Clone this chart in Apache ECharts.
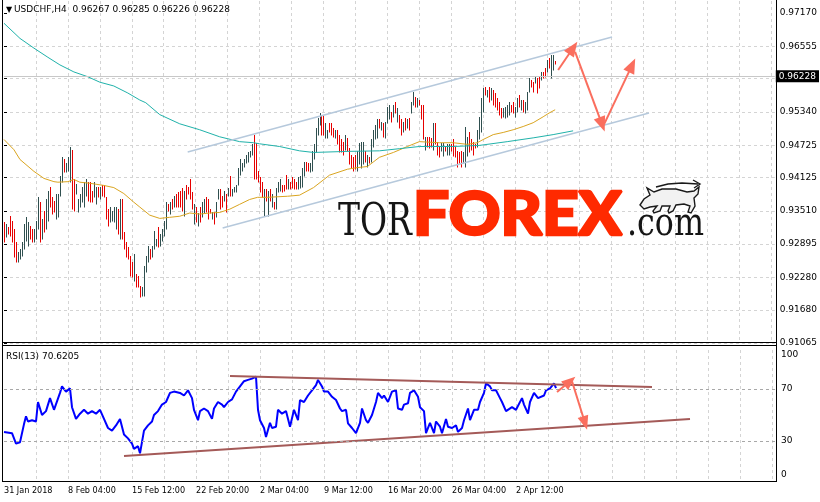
<!DOCTYPE html>
<html><head><meta charset="utf-8">
<script src="https://cdn.jsdelivr.net/npm/echarts@6/dist/echarts.min.js"></script>
<style>html,body{margin:0;padding:0;background:#fff}#c{width:820px;height:502px}</style>
</head><body><div id="c"></div>
<script>
// ---------- DATA ----------
const symbolTitle = 'USDCHF,H4';
const lastOHLC = ['0.96267', '0.96285', '0.96226', '0.96228'];
const lastPrice = 0.96228;
const rsiTitle = 'RSI(13) 70.6205';

const barHigh = [
0.9330,0.9326,0.9321,0.9341,0.9332,0.9317,0.9293,0.9275,0.9280,0.9293,
0.9326,0.9339,0.9330,0.9323,0.9317,0.9317,0.9332,0.9376,0.9367,0.9336,
0.9350,0.9372,0.9387,0.9396,0.9376,0.9369,0.9382,0.9382,0.9415,0.9451,
0.9446,0.9440,0.9451,0.9470,0.9464,0.9409,0.9400,0.9372,0.9382,0.9396,
0.9404,0.9409,0.9405,0.9404,0.9387,0.9404,0.9396,0.9396,0.9396,0.9399,
0.9399,0.9376,0.9354,0.9358,0.9350,0.9358,0.9358,0.9354,0.9372,0.9372,
0.9312,0.9293,0.9284,0.9267,0.9256,0.9271,0.9235,0.9231,0.9212,0.9210,
0.9249,0.9267,0.9286,0.9280,0.9286,0.9313,0.9299,0.9321,0.9308,0.9317,
0.9332,0.9367,0.9363,0.9367,0.9372,0.9378,0.9382,0.9385,0.9387,0.9394,
0.9387,0.9399,0.9396,0.9409,0.9385,0.9363,0.9358,0.9347,0.9358,0.9367,
0.9372,0.9376,0.9372,0.9354,0.9348,0.9348,0.9367,0.9391,0.9391,0.9378,
0.9387,0.9382,0.9393,0.9416,0.9391,0.9396,0.9399,0.9431,0.9446,0.9440,
0.9446,0.9455,0.9459,0.9461,0.9474,0.9492,0.9477,0.9424,0.9413,0.9405,
0.9391,0.9391,0.9387,0.9391,0.9382,0.9367,0.9394,0.9405,0.9409,0.9399,
0.9399,0.9418,0.9409,0.9405,0.9413,0.9409,0.9404,0.9413,0.9415,0.9431,
0.9442,0.9442,0.9440,0.9440,0.9461,0.9474,0.9505,0.9523,0.9532,0.9529,
0.9529,0.9514,0.9501,0.9514,0.9514,0.9505,0.9501,0.9501,0.9492,0.9483,
0.9479,0.9492,0.9486,0.9468,0.9455,0.9450,0.9455,0.9461,0.9477,0.9479,
0.9479,0.9461,0.9455,0.9450,0.9483,0.9501,0.9510,0.9520,0.9520,0.9516,
0.9514,0.9516,0.9543,0.9547,0.9534,0.9547,0.9553,0.9542,0.9529,0.9520,
0.9516,0.9523,0.9520,0.9523,0.9553,0.9571,0.9562,0.9560,0.9556,0.9547,
0.9547,0.9488,0.9488,0.9488,0.9486,0.9514,0.9514,0.9479,0.9470,0.9477,
0.9477,0.9470,0.9474,0.9474,0.9474,0.9483,0.9470,0.9461,0.9459,0.9461,
0.9459,0.9507,0.9488,0.9496,0.9483,0.9479,0.9474,0.9501,0.9525,0.9560,
0.9578,0.9580,0.9575,0.9580,0.9578,0.9575,0.9569,0.9560,0.9553,0.9542,
0.9542,0.9543,0.9547,0.9553,0.9547,0.9553,0.9543,0.9560,0.9565,0.9556,
0.9556,0.9553,0.9571,0.9597,0.9593,0.9589,0.9599,0.9597,0.9599,0.9608,
0.9608,0.9615,0.9630,0.9634,0.9639,0.9639,0.96285];

const barLow = [
0.9293,0.9302,0.9308,0.9304,0.9293,0.9266,0.9256,0.9256,0.9262,0.9267,
0.9280,0.9295,0.9286,0.9299,0.9293,0.9293,0.9299,0.9317,0.9293,0.9299,
0.9312,0.9317,0.9332,0.9359,0.9345,0.9348,0.9336,0.9339,0.9378,0.9405,
0.9422,0.9422,0.9424,0.9404,0.9354,0.9350,0.9382,0.9348,0.9359,0.9367,
0.9358,0.9378,0.9369,0.9367,0.9367,0.9376,0.9363,0.9376,0.9372,0.9378,
0.9376,0.9336,0.9323,0.9330,0.9332,0.9330,0.9317,0.9308,0.9299,0.9299,
0.9280,0.9266,0.9262,0.9231,0.9229,0.9221,0.9210,0.9210,0.9192,0.9194,
0.9194,0.9238,0.9256,0.9262,0.9266,0.9280,0.9286,0.9284,0.9286,0.9295,
0.9304,0.9317,0.9350,0.9345,0.9354,0.9358,0.9359,0.9359,0.9358,0.9350,
0.9341,0.9372,0.9382,0.9372,0.9354,0.9326,0.9330,0.9323,0.9330,0.9339,
0.9347,0.9348,0.9336,0.9347,0.9336,0.9326,0.9339,0.9372,0.9354,0.9358,
0.9369,0.9348,0.9378,0.9378,0.9378,0.9385,0.9385,0.9399,0.9418,0.9424,
0.9433,0.9440,0.9442,0.9450,0.9455,0.9409,0.9409,0.9405,0.9385,0.9376,
0.9341,0.9369,0.9341,0.9369,0.9358,0.9354,0.9354,0.9385,0.9387,0.9385,
0.9387,0.9391,0.9391,0.9391,0.9394,0.9391,0.9391,0.9391,0.9393,0.9396,
0.9415,0.9424,0.9424,0.9422,0.9424,0.9446,0.9459,0.9492,0.9510,0.9492,
0.9492,0.9486,0.9486,0.9496,0.9492,0.9488,0.9486,0.9474,0.9459,0.9459,
0.9455,0.9464,0.9461,0.9437,0.9431,0.9424,0.9428,0.9424,0.9437,0.9431,
0.9437,0.9442,0.9433,0.9440,0.9442,0.9470,0.9483,0.9486,0.9505,0.9501,
0.9488,0.9486,0.9514,0.9520,0.9516,0.9525,0.9532,0.9516,0.9505,0.9492,
0.9496,0.9501,0.9505,0.9501,0.9532,0.9547,0.9543,0.9543,0.9547,0.9520,
0.9483,0.9464,0.9470,0.9468,0.9470,0.9464,0.9474,0.9455,0.9450,0.9461,
0.9452,0.9461,0.9455,0.9455,0.9461,0.9452,0.9450,0.9433,0.9440,0.9433,
0.9440,0.9433,0.9452,0.9459,0.9464,0.9455,0.9468,0.9470,0.9483,0.9497,
0.9534,0.9565,0.9562,0.9553,0.9556,0.9547,0.9543,0.9538,0.9529,0.9523,
0.9525,0.9523,0.9525,0.9529,0.9534,0.9532,0.9525,0.9534,0.9543,0.9538,
0.9534,0.9532,0.9538,0.9571,0.9580,0.9571,0.9588,0.9569,0.9578,0.9593,
0.9597,0.9599,0.9608,0.9615,0.9597,0.9612,0.96226];

// 1 = bullish bar (dark), 0 = bearish bar (red)
const barUp = [
0,1,0,0,0,0,0,1,1,1, 1,1,1,0,0,1,1,1,0,1, 0,1,1,0,0,0,1,1,1,1, 0,1,1,1,0,0,1,1,1,1,
1,1,0,0,0,1,1,0,1,0, 0,0,0,1,1,1,1,0,1,0, 0,0,0,0,0,1,0,0,0,1, 1,1,1,0,1,1,1,0,1,1,
1,1,0,1,0,1,0,0,0,0, 1,0,0,0,0,1,0,1,0,1, 1,0,0,0,1,0,1,1,0,0, 1,0,1,0,1,1,1,1,1,1,
1,1,1,1,1,0,0,0,0,0, 1,0,1,0,1,0,1,1,1,0, 0,0,1,0,0,0,0,1,1,1, 1,0,0,1,1,1,1,1,1,0,
0,1,1,0,0,0,1,0,0,0, 0,1,0,0,0,0,0,1,1,1, 1,0,1,0,1,1,1,1,0,1, 0,1,1,1,0,1,0,1,0,0,
1,0,1,0,1,1,0,1,0,0, 0,1,0,0,0,1,0,0,0,1, 1,0,1,1,0,0,0,0,0,0, 1,1,1,0,0,0,0,1,1,1,
1,0,1,0,1,0,0,0,0,0, 1,1,1,1,0,0,1,1,0,1, 0,1,1,1,0,0,1,0,0,1, 0,0,1,0,1,1,0];

// moving averages: [bar index, value]
const maFast = [[0,0.9483],[5,0.9464],[8,0.9446],[15,0.9424],[20,0.9411],[25,0.9405],[27,0.9404],[32,0.9405],[35,0.9409],[38,0.9404],[43,0.9402],[50,0.9398],[55,0.9394],[60,0.9383],[65,0.9367],[68,0.9358],[73,0.9343],[78,0.9337],[83,0.9339],[88,0.9341],[93,0.9347],[98,0.9345],[103,0.9347],[108,0.9348],[113,0.9354],[118,0.9363],[123,0.9372],[127,0.9376],[132,0.9376],[142,0.9378],[148,0.9380],[155,0.9394],[163,0.9417],[172,0.9428],[177,0.9431],[182,0.9433],[188,0.9450],[195,0.9459],[202,0.9470],[208,0.9479],[218,0.9477],[225,0.9477],[232,0.9474],[237,0.9477],[240,0.9483],[245,0.9492],[250,0.9496],[255,0.9501],[260,0.9507],[265,0.9514],[270,0.9525],[273,0.9532],[276,0.9538]];
const maSlow = [[0,0.9698],[8,0.9670],[15,0.9652],[22,0.9635],[28,0.9621],[35,0.9608],[42,0.9599],[48,0.9589],[55,0.9582],[62,0.9569],[68,0.9556],[71,0.9551],[78,0.9529],[88,0.9512],[98,0.9501],[108,0.9488],[118,0.9479],[125,0.9477],[128,0.9475],[138,0.9470],[148,0.9462],[155,0.9459],[172,0.9461],[188,0.9462],[198,0.9466],[208,0.9470],[225,0.9470],[238,0.9472],[252,0.9479],[265,0.9486],[275,0.9492],[285,0.9499]];

// RSI(13): [bar index, value]
const rsiPoints = [[0,37],[4,36],[6,28],[8,29],[10,43],[11,49],[12,45],[14,46],[16,45],[17,60],[19,50],[21,53],[23,63],[25,54],[26,55],[28,67],[29,72],[31,68],[33,70.5],[34,56],[36,47],[38,51],[40,54],[42,51],[44,53],[46,51],[48,54],[50,47],[52,40],[54,38],[56,42],[58,47],[60,35],[62,32],[64,28],[65,24],[67,26],[68,20.5],[70,38],[72,42],[74,45],[75,50],[77,53],[79,58],[81,60],[83,67],[85,68],[88,67],[90,65],[92,69],[94,63],[95,54],[97,46],[98,53],[100,55],[102,53],[104,47],[105,55],[107,60],[109,58],[110,56],[112,60],[114,62],[116,68],[118,72],[120,76],[122,77],[124,78],[126,79.5],[127,54],[128,46],[130,40],[131,33],[133,44],[134,40],[136,41],[137,54],[139,51],[141,53],[143,41],[145,54],[147,46],[148,61.5],[150,60],[152,65],[154,69],[156,73],[157,77],[159,72],[160,68],[162,68],[164,64],[166,61.5],[168,55],[169,53],[171,54],[172,43.6],[174,40],[176,36],[178,44],[179,55],[181,46],[182,44],[184,50],[186,60],[187,67],[189,63],[190,65],[192,60],[194,68],[196,69],[197,55],[199,54],[200,58],[202,59],[203,67],[205,69],[207,64],[208,56],[210,53],[211,36],[213,44],[215,36],[216,45],[218,41],[219,36],[221,47],[222,41],[224,40],[226,42],[227,37],[229,40],[230,46],[232,55],[233,46],[235,54],[237,54],[238,60],[240,67],[241,74.4],[243,72],[244,69],[246,69],[248,63],[249,60],[251,53],[252,53],[254,56],[256,54],[257,55],[259,63],[260,58],[262,51],[263,60],[265,67],[267,63],[268,64],[270,65],[271,69],[273,70.5],[274,72],[275,74.4],[276,70.6205]];

const priceTicks = ['0.91065','0.91680','0.92280','0.92895','0.93510','0.94125','0.94725','0.95340','0.95955','0.96555','0.97170'];
const rsiTicks = [0, 30, 70, 100];
const timeLabels = ['31 Jan 2018','8 Feb 04:00','15 Feb 12:00','22 Feb 20:00','2 Mar 04:00','9 Mar 12:00','16 Mar 20:00','26 Mar 04:00','2 Apr 12:00'];

// drawn objects (bar index, value)
const channelUpper = [[92,0.94599],[304.5,0.96726]];
const channelLower = [[109.5,0.93193],[323,0.95320]];
const priceArrows = [[[277.5,0.96116],[285,0.96523]],[[286,0.96449],[299.5,0.95109]],[[300.5,0.95109],[314.5,0.96201]]];
const rsiUpper = [[113,80],[324,71.5]];
const rsiLower = [[60,18.5],[343,47]];
const rsiArrows = [[[276.5,67.7],[283,76]],[[284,76],[290.5,43.8]]];

// ---------- CHART ----------
const chart = echarts.init(document.getElementById('c'), null, {renderer:'canvas'});
const priceTickValues = priceTicks.map(Number);
const gridDash = {color:'#d4d4d4', type:[3,3], width:1};
const labelFont = 'DejaVu Sans';

const xCommon = {type:'value', min:0, max:386, interval:16,
  axisLine:{show:false}, axisTick:{show:false},
  splitLine:{show:true, showMinLine:false, showMaxLine:false, lineStyle:gridDash}};

const mctx = document.createElement('canvas').getContext('2d');
function fit(text, font, w){ mctx.font = font; return w / mctx.measureText(text).width; }

const torFont = '40px "DejaVu Serif"';
const forexFont = '900 60px Lato, Roboto, sans-serif';
const comFont = '34px "DejaVu Serif"';

// bull logo outline (local pixel shape of the watermark)
const bullBody = [[2,21],[6,15],[12,11],[9,4],[16,8],[24,5],[38,5],[49,8],[56,7],[61,3],[60,10],[56,14],[57,22],[53,29],[50,28],[52,22],[46,20],[38,21],[35,27],[31,29],[30,27],[32,22],[24,22],[22,27],[16,29],[15,27],[19,22],[12,23],[6,25]];
const bullArrow = [[18,3],[30,0],[44,-1],[60,0]];
const bullHead = [[55,-4],[62,0],[56,4]];

const option = {
  animation:false,
  backgroundColor:'#ffffff',
  grid:[
    {left:4, top:1, width:772, height:342},
    {left:4, top:350, width:772, height:130}
  ],
  xAxis:[
    Object.assign({gridIndex:0, axisLabel:{show:false}}, xCommon),
    Object.assign({gridIndex:1, axisLabel:{show:true, align:'left', margin:6, fontSize:9,
      fontFamily:'"DejaVu Sans Condensed", "Liberation Sans Narrow", "DejaVu Sans"', color:'#000',
      showMaxLabel:false,
      formatter:v => (v % 32 === 0 && timeLabels[v/32]) ? timeLabels[v/32] : ''}}, xCommon)
  ],
  yAxis:[
    {type:'value', gridIndex:0, position:'right', min:0.91065, max:0.97392,
     axisLine:{show:false},
     axisTick:{show:true, length:3, customValues:priceTickValues, lineStyle:{color:'#000'}},
     axisLabel:{show:true, customValues:priceTickValues, margin:5, fontSize:9, fontFamily:labelFont, color:'#000',
       formatter:v => { const i = priceTickValues.indexOf(v); return i >= 0 ? priceTicks[i] : v.toFixed(5); }},
     splitLine:{show:true, showMaxLine:false, lineStyle:gridDash}},
    {type:'value', gridIndex:1, position:'right', min:0, max:100, interval:10,
     axisLine:{show:false}, axisTick:{show:false}, splitLine:{show:false},
     axisLabel:{show:true, customValues:rsiTicks, margin:5, fontSize:9, fontFamily:labelFont, color:'#000',
       formatter:v => v === 100 ? '{t|100}' : (v === 0 ? '{b|0}' : (rsiTicks.indexOf(v) >= 0 ? String(v) : '')),
       rich:{t:{padding:[10,0,0,0], fontSize:9, fontFamily:labelFont, color:'#000'},
             b:{padding:[0,0,10,0], fontSize:9, fontFamily:labelFont, color:'#000'}}}}
  ],
  graphic:[
    // watermark
    {type:'text', z:1, x:338, y:224, scaleX:fit('TOR', torFont, 74), scaleY:1.1,
     style:{text:'TOR', font:torFont, fill:'#151515', verticalAlign:'middle', align:'left'}},
    {type:'text', z:1, x:413, y:216, scaleX:fit('FOREX', forexFont, 209), scaleY:1.0,
     style:{text:'FOREX', font:forexFont, fill:'#ff2a00', stroke:'#ff2a00', lineWidth:2.5, verticalAlign:'middle', align:'left'}},
    {type:'text', z:1, x:627, y:225.5, scaleX:fit('.com', comFont, 77), scaleY:1.13,
     style:{text:'.com', font:comFont, fill:'#151515', verticalAlign:'middle', align:'left'}},
    {type:'polygon', z:1, x:638, y:184, shape:{points:bullBody},
     style:{fill:'#f2f2f2', stroke:'#1a1a1a', lineWidth:1.4}},
    {type:'polyline', z:1, x:638, y:184, shape:{points:bullArrow},
     style:{fill:null, stroke:'#1a1a1a', lineWidth:1.4}},
    {type:'polyline', z:1, x:638, y:184, shape:{points:bullHead},
     style:{fill:null, stroke:'#1a1a1a', lineWidth:1.4}},
    // headers
    {type:'text', z:10, x:6, y:10, style:{text:'\u25BC', font:'8px "DejaVu Sans"', fill:'#000', verticalAlign:'middle'}},
    {type:'text', z:10, x:14, y:10, style:{text:symbolTitle + '  ' + lastOHLC.join(' '), font:'9px "DejaVu Sans"', fill:'#000', verticalAlign:'middle'}},
    {type:'text', z:10, x:6, y:357, style:{text:rsiTitle, font:'9px "DejaVu Sans"', fill:'#000', verticalAlign:'middle'}},
    // frames
    {type:'line', z:20, shape:{x1:2.5, y1:0, x2:2.5, y2:482}, style:{stroke:'#000', lineWidth:1}},
    {type:'line', z:20, shape:{x1:776.5, y1:0, x2:776.5, y2:482}, style:{stroke:'#000', lineWidth:1}},
    {type:'line', z:20, shape:{x1:2, y1:342.5, x2:777, y2:342.5}, style:{stroke:'#000', lineWidth:1}},
    {type:'line', z:20, shape:{x1:2, y1:345.5, x2:777, y2:345.5}, style:{stroke:'#000', lineWidth:1}},
    {type:'line', z:20, shape:{x1:2, y1:481.5, x2:777, y2:481.5}, style:{stroke:'#000', lineWidth:1}}
  ],
  series:[
    {type:'custom', name:'bars', xAxisIndex:0, yAxisIndex:0, clip:true,
     data: barHigh.map((h,i) => [i, barLow[i], h, barUp[i]]),
     renderItem:(params, api) => {
       const x = api.value(0);
       const p1 = api.coord([x, api.value(1)]);
       const p2 = api.coord([x, api.value(2)]);
       const px = Math.round(p1[0]) + 0.5;
       return {type:'line', shape:{x1:px, y1:Math.round(p1[1]) + 0.5, x2:px, y2:Math.round(p2[1])},
         style:{stroke: api.value(3) ? '#2f4f4f' : '#e60000', lineWidth:1}};
     }},
    {type:'line', name:'MA fast', xAxisIndex:0, yAxisIndex:0, data:maFast, showSymbol:false, smooth:false,
     lineStyle:{color:'#daa520', width:1}, z:3,
     markLine:{silent:true, symbol:'none', animation:false,
       lineStyle:{color:'#c8c8c8', type:'solid', width:1},
       label:{show:true, position:'end', distance:1, formatter:lastOHLC[3], color:'#fff', backgroundColor:'#000',
         padding:[2,3,1,3], fontSize:9, fontFamily:labelFont},
       data:[{yAxis:lastPrice}]}},
    {type:'line', name:'MA slow', xAxisIndex:0, yAxisIndex:0, data:maSlow, showSymbol:false,
     lineStyle:{color:'#20b2aa', width:1}, z:3},
    {type:'line', name:'channel up', xAxisIndex:0, yAxisIndex:0, data:channelUpper, showSymbol:false,
     lineStyle:{color:'#b6c9dc', width:1.5}, z:4,
     markLine:{silent:true, symbol:['none','triangle'], symbolSize:[12,15], animation:false,
       lineStyle:{color:'#fa6e5e', type:'solid', width:2}, label:{show:false},
       data: priceArrows.map(a => [{coord:a[0]}, {coord:a[1]}])}},
    {type:'line', name:'channel down', xAxisIndex:0, yAxisIndex:0, data:channelLower, showSymbol:false,
     lineStyle:{color:'#b6c9dc', width:1.5}, z:4},
    {type:'line', name:'RSI', xAxisIndex:1, yAxisIndex:1, data:rsiPoints, showSymbol:false,
     lineStyle:{color:'#0000ff', width:2}, z:3,
     markLine:{silent:true, symbol:'none', animation:false,
       lineStyle:{color:'#a8a8a8', type:[3,3], width:1}, label:{show:false},
       data:[{yAxis:30},{yAxis:70}]}},
    {type:'line', name:'RSI up', xAxisIndex:1, yAxisIndex:1, data:rsiUpper, showSymbol:false,
     lineStyle:{color:'#a45a58', width:2}, z:4,
     markLine:{silent:true, symbol:['none','triangle'], symbolSize:[11,14], animation:false,
       lineStyle:{color:'#fa6e5e', type:'solid', width:2}, label:{show:false},
       data: rsiArrows.map(a => [{coord:a[0]}, {coord:a[1]}])}},
    {type:'line', name:'RSI down', xAxisIndex:1, yAxisIndex:1, data:rsiLower, showSymbol:false,
     lineStyle:{color:'#a45a58', width:2}, z:4}
  ]
};
chart.setOption(option);
</script>
</body></html>
